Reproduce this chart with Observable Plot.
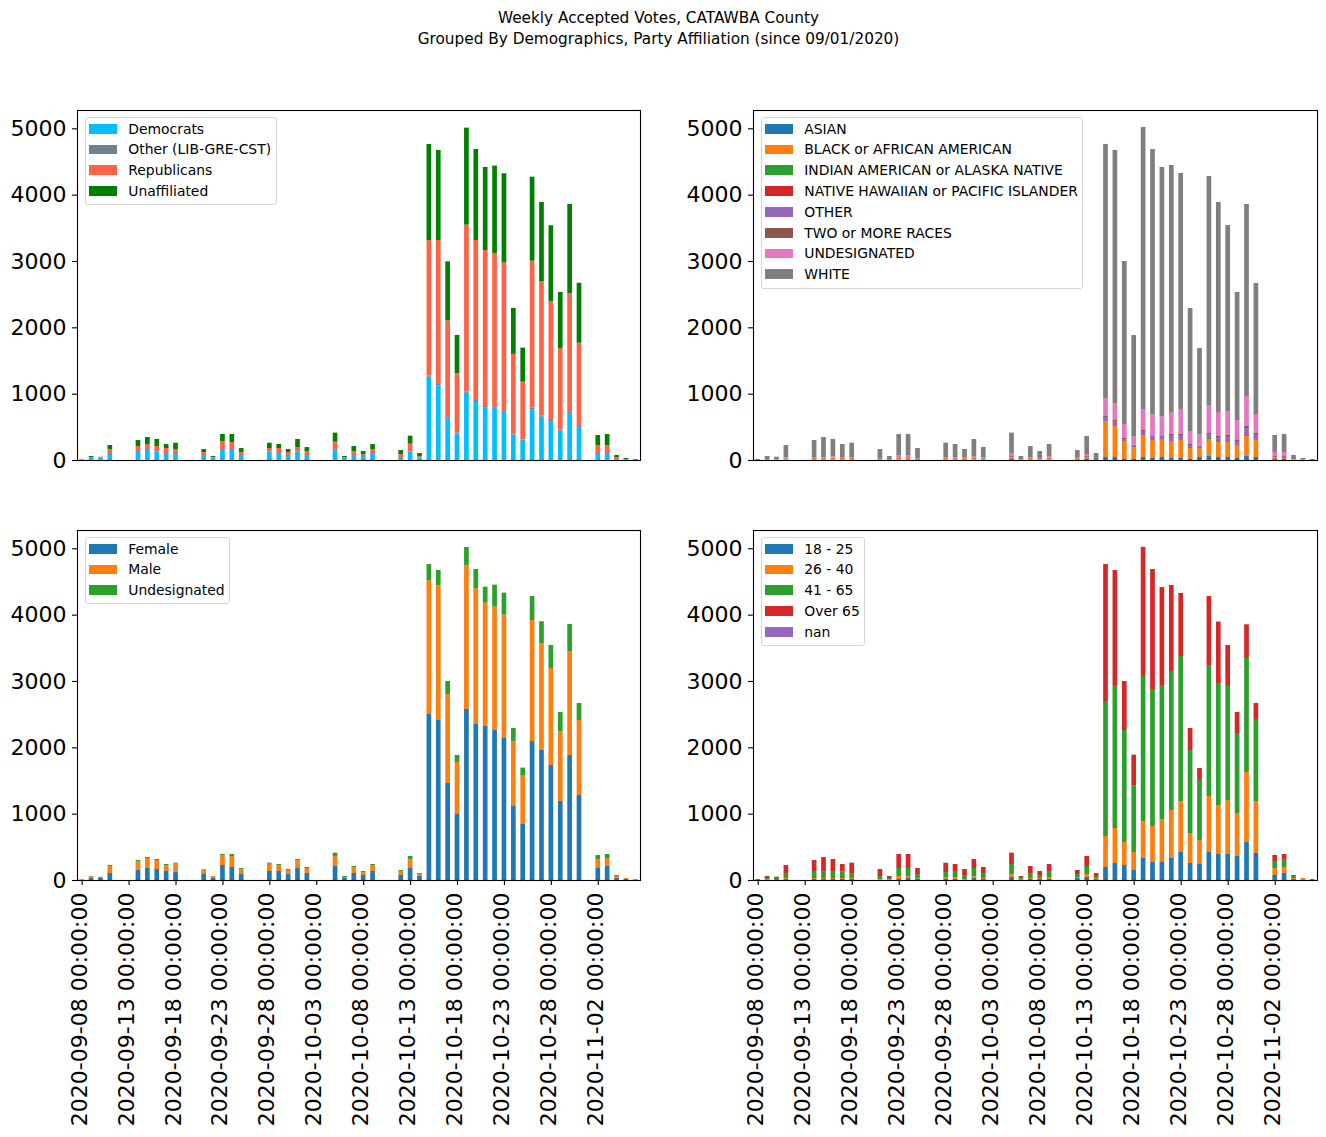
<!DOCTYPE html>
<html><head><meta charset="utf-8">
<script src="https://cdn.jsdelivr.net/npm/d3@7"></script>
<script src="https://cdn.jsdelivr.net/npm/@observablehq/plot@0.6"></script>
<style>
body{margin:0;background:#fff;font-family:"DejaVu Sans",sans-serif;}
#root{position:relative;width:1326px;height:1137px;overflow:hidden;background:#fff;}
.title{position:absolute;left:0;width:1317px;text-align:center;font-size:15.3px;color:#000;line-height:21px;top:7.5px;}
.panel{position:absolute;}
.legend{position:absolute;border:1px solid #d6d6d6;border-radius:3px;background:rgba(255,255,255,0.8);box-sizing:border-box;padding:0 4px 0 3.3px;font-size:13.9px;color:#000;}
.row{height:20.8px;display:flex;align-items:center;white-space:nowrap;}
.sw{width:27.7px;height:9.7px;margin-right:11.6px;flex:none;}
</style></head><body><div id="root"></div>
<script>
// ---- categories (daily) ----
const DATES = [
"2020-09-08","2020-09-09","2020-09-10","2020-09-11","2020-09-12","2020-09-13","2020-09-14","2020-09-15","2020-09-16","2020-09-17",
"2020-09-18","2020-09-19","2020-09-20","2020-09-21","2020-09-22","2020-09-23","2020-09-24","2020-09-25","2020-09-26","2020-09-27",
"2020-09-28","2020-09-29","2020-09-30","2020-10-01","2020-10-02","2020-10-03","2020-10-04","2020-10-05","2020-10-06","2020-10-07",
"2020-10-08","2020-10-09","2020-10-10","2020-10-11","2020-10-12","2020-10-13","2020-10-14","2020-10-15","2020-10-16","2020-10-17",
"2020-10-18","2020-10-19","2020-10-20","2020-10-21","2020-10-22","2020-10-23","2020-10-24","2020-10-25","2020-10-26","2020-10-27",
"2020-10-28","2020-10-29","2020-10-30","2020-10-31","2020-11-01","2020-11-02","2020-11-03","2020-11-04","2020-11-05","2020-11-06"];
const TICK_DATES = ["2020-09-08","2020-09-13","2020-09-18","2020-09-23","2020-09-28","2020-10-03","2020-10-08","2020-10-13","2020-10-18","2020-10-23","2020-10-28","2020-11-02"];
const Y_TICKS = [0,1000,2000,3000,4000,5000];
const Y_MAX = 5276;

// ---- party ----
const PARTY_NAMES = ["Democrats","Other (LIB-GRE-CST)","Republicans","Unaffiliated"];
const PARTY_COLORS = ["#00bfff","#708090","#ff6347","#008000"];
const DEM = [
10,35,35,106,0,0,136,151,126,90,
90,0,0,60,35,166,151,60,0,0,
126,106,75,126,75,0,0,156,35,75,
60,90,0,0,45,121,35,1256,1121,638,
402,1015,889,789,789,729,382,307,759,653,
578,442,698,487,0,90,90,15,5,0];
const OTH = [
0,0,0,0,0,0,0,0,0,0,
0,0,0,0,0,0,0,0,0,0,
0,0,0,0,0,0,0,0,0,0,
0,0,0,0,0,5,0,15,25,10,
10,15,15,25,10,10,15,5,30,15,
25,15,30,25,0,15,0,0,0,0];
const REP = [
5,5,15,60,0,0,75,90,85,90,
75,0,0,60,10,120,120,60,0,0,
55,75,45,70,60,0,0,121,5,60,
30,75,0,0,45,120,25,2045,2171,1457,
900,2518,2412,2352,2322,2241,1203,869,2216,2030,
1790,1232,1789,1256,0,120,135,30,10,5];
const UNA = [
0,20,0,60,0,0,90,106,106,60,
95,0,0,45,15,106,120,60,0,0,
80,60,45,121,60,0,0,136,20,75,
45,75,0,0,60,121,45,1447,1357,889,
573,1462,1372,1251,1317,1342,693,513,1266,1191,
1146,844,1342,904,0,151,166,30,15,10];

// ---- race ----
const RACE_NAMES = ["ASIAN","BLACK or AFRICAN AMERICAN","INDIAN AMERICAN or ALASKA NATIVE","NATIVE HAWAIIAN or PACIFIC ISLANDER","OTHER","TWO or MORE RACES","UNDESIGNATED","WHITE"];
const RACE_COLORS = ["#1f77b4","#ff7f0e","#2ca02c","#d62728","#9467bd","#8c564b","#e377c2","#7f7f7f"];
const ASIAN = [
0,0,0,0,0,0,0,0,0,0,
0,0,0,0,0,0,0,0,0,0,
0,0,10,10,0,0,0,15,0,0,
0,0,0,0,0,15,0,45,45,15,
15,45,30,45,30,30,15,45,60,45,
45,30,60,45,0,15,15,0,0,0];
const BLACK = [
0,5,5,15,0,0,30,30,30,30,
30,0,0,15,15,45,45,15,0,0,
30,15,20,20,15,0,0,30,10,30,
15,30,0,0,30,30,0,543,468,271,
181,332,272,257,256,272,166,136,257,226,
226,181,302,257,0,30,15,5,0,0];
const INDIAN = [
0,0,0,0,0,0,0,0,0,0,
0,0,0,0,0,0,0,0,0,0,
0,0,0,0,0,0,0,0,0,0,
0,0,0,0,0,0,15,0,0,0,
0,0,0,5,0,0,0,0,15,0,
0,0,15,0,0,0,0,0,0,0];
const HAWAII = [
0,0,0,0,0,0,0,0,0,0,
0,0,0,0,0,0,0,0,0,0,
0,0,0,0,0,0,0,0,0,0,
0,0,0,0,0,0,0,0,0,0,
0,0,0,0,0,0,0,0,0,0,
0,5,0,0,0,0,0,0,0,0];
const OTHER_R = [
0,0,0,5,0,0,0,5,5,0,
0,0,0,0,0,0,0,0,0,0,
0,0,0,0,10,0,0,15,0,0,
0,0,0,0,0,15,0,50,65,30,
30,60,60,55,91,75,45,30,60,76,
91,70,105,90,0,15,30,0,0,0];
const TWO = [
0,0,0,0,0,0,0,0,0,0,
0,0,0,0,0,0,0,0,0,0,
0,0,0,0,0,0,0,0,0,0,
0,0,0,0,0,0,0,25,25,15,
5,15,10,10,15,15,15,5,15,15,
15,15,31,15,0,0,0,0,0,0];
const UNDES_R = [
0,0,5,15,0,0,15,10,25,15,
15,0,0,15,0,30,30,15,0,0,
15,30,15,30,20,0,0,45,0,15,
15,30,0,0,15,30,0,272,256,211,
121,317,316,286,332,377,196,166,422,362,
362,301,452,286,0,61,61,5,5,0];
const WHITE = [
15,55,40,191,0,0,256,302,257,196,
216,0,0,136,45,317,317,151,0,0,
216,196,121,257,151,0,0,307,50,166,
106,181,0,0,106,272,91,3829,3814,2458,
1532,4251,4000,3759,3723,3558,1854,1306,3452,3165,
2804,1931,2894,1975,0,256,271,65,25,15];

// ---- gender ----
const GENDER_NAMES = ["Female","Male","Undesignated"];
const GENDER_COLORS = ["#1f77b4","#ff7f0e","#2ca02c"];
const FEMALE = [
5,30,30,106,0,0,151,181,166,136,
121,0,0,90,30,226,196,90,0,0,
136,136,90,181,106,0,0,211,30,106,
75,136,0,0,75,181,60,2502,2412,1462,
995,2578,2352,2322,2261,2141,1116,844,2095,1960,
1734,1191,1884,1281,0,181,211,30,15,0];
const MALE = [
10,30,20,106,0,0,136,151,136,90,
126,0,0,73,30,151,166,75,0,0,
110,90,60,121,75,0,0,151,15,90,
45,90,0,0,60,136,30,2020,2035,1342,
784,2171,2050,1859,1859,1859,980,729,1824,1608,
1462,1055,1568,1131,0,136,121,30,15,15];
const UNDES_G = [
0,0,0,15,0,0,15,15,15,15,
15,0,0,3,0,15,30,15,0,0,
15,15,15,15,15,0,0,50,15,15,
15,15,0,0,15,45,15,241,226,196,
106,271,286,241,332,332,196,121,362,332,
347,286,407,256,0,60,60,15,0,0];

// ---- age ----
const AGE_NAMES = ["18 - 25","26 - 40","41 - 65","Over 65","nan"];
const AGE_COLORS = ["#1f77b4","#ff7f0e","#2ca02c","#d62728","#9467bd"];
const A18 = [
0,0,0,15,0,0,15,15,15,15,
15,0,0,5,5,15,30,15,0,0,
15,15,10,30,15,0,0,45,10,15,
15,15,0,0,30,45,15,196,256,226,
151,332,271,271,332,422,256,241,422,392,
392,362,573,407,0,75,106,15,10,0];
const A26 = [
0,5,0,15,0,0,15,15,15,15,
15,0,0,10,5,45,30,5,0,0,
30,30,5,30,15,0,0,45,5,15,
15,30,0,0,15,45,15,467,528,347,
271,558,543,648,724,769,452,362,844,739,
814,648,1055,784,0,106,90,15,20,0];
const A41 = [
15,25,30,75,0,0,106,95,106,95,
75,0,0,45,20,121,121,70,0,0,
75,90,60,121,75,0,0,151,30,75,
45,90,0,0,45,121,30,2035,2155,1688,
1000,2186,2065,2020,2095,2186,1251,905,1975,1839,
1719,1206,1719,1236,0,106,121,30,0,15];
const A65 = [
0,30,20,121,0,0,166,221,181,116,
156,0,0,106,30,211,211,91,0,0,
141,106,91,136,91,0,0,171,15,106,
61,106,0,0,61,151,45,2065,1734,739,
467,1945,1809,1477,1296,950,332,181,1040,925,
618,317,507,241,0,90,75,15,0,0];
const ANAN = [
0,0,0,0,0,0,0,0,0,0,
0,0,0,0,0,0,0,0,0,0,
0,0,0,0,0,0,0,0,0,0,
0,0,0,0,0,0,0,0,0,0,
0,0,0,0,0,0,0,0,0,0,
0,0,0,0,0,0,0,0,0,0];

const root = document.getElementById("root");
const t = document.createElement("div");
t.className = "title";
t.innerHTML = "Weekly Accepted Votes, CATAWBA County<br>Grouped By Demographics, Party Affiliation (since 09/01/2020)";
root.appendChild(t);

function panel(cfg) {
  const {names, colors, values, left, top, width, height, mL, mR, mT, mB, showX, legend} = cfg;
  const data = [];
  names.forEach((s, k) => values[k].forEach((v, i) => { if (v > 0) data.push({date: DATES[i], series: s, value: v}); }));
  const marks = [
    Plot.barY(data, {x: "date", y: "value", fill: "series", z: "series", order: names}),
    Plot.frame({stroke: "black", strokeWidth: 1.1}),
    Plot.axisY({ticks: Y_TICKS, tickSize: 5, tickPadding: 6, fontSize: 22, label: null, tickFormat: d => String(d), stroke: "black", strokeWidth: 1.1})
  ];
  if (showX) {
    marks.push(Plot.axisX({ticks: TICK_DATES, tickSize: 5, tickFormat: () => "", label: null, strokeWidth: 1.1}));
    marks.push(Plot.text(TICK_DATES, {x: d => d, frameAnchor: "bottom", text: d => d + " 00:00:00",
      rotate: -90, textAnchor: "end", lineAnchor: "middle", dx: -2.5, dy: 12, fontSize: 22, fill: "black"}));
  }
  const svg = Plot.plot({
    width, height, marginLeft: mL, marginRight: mR, marginTop: mT, marginBottom: mB,
    style: {fontFamily: "DejaVu Sans", background: "transparent", overflow: "visible", color: "black"},
    x: {type: "band", domain: DATES, paddingInner: 0.5, paddingOuter: 0.25, round: false, axis: null},
    y: {domain: [0, Y_MAX], axis: null},
    color: {domain: names, range: colors},
    marks
  });
  const wrap = document.createElement("div");
  wrap.className = "panel";
  wrap.style.left = left + "px";
  wrap.style.top = top + "px";
  wrap.appendChild(svg);
  root.appendChild(wrap);

  const lg = document.createElement("div");
  lg.className = "legend";
  lg.style.left = legend.x + "px";
  lg.style.top = legend.y + "px";
  lg.style.width = legend.w + "px";
  lg.style.height = legend.h + "px";
  names.forEach((n, k) => {
    const r = document.createElement("div");
    r.className = "row";
    const sw = document.createElement("div");
    sw.className = "sw";
    sw.style.background = colors[k];
    const tx = document.createElement("span");
    tx.textContent = n;
    r.appendChild(sw); r.appendChild(tx);
    lg.appendChild(r);
  });
  root.appendChild(lg);
}

panel({names: PARTY_NAMES, colors: PARTY_COLORS, values: [DEM, OTH, REP, UNA],
  left: 0, top: 60, width: 663, height: 410, mL: 77, mR: 23, mT: 50, mB: 10, showX: false,
  legend: {x: 84.7, y: 117.3, w: 192, h: 88}});
panel({names: RACE_NAMES, colors: RACE_COLORS, values: [ASIAN, BLACK, INDIAN, HAWAII, OTHER_R, TWO, UNDES_R, WHITE],
  left: 663, top: 60, width: 663, height: 410, mL: 90, mR: 9, mT: 50, mB: 10, showX: false,
  legend: {x: 760.7, y: 117.3, w: 322.6, h: 172}});
panel({names: GENDER_NAMES, colors: GENDER_COLORS, values: [FEMALE, MALE, UNDES_G],
  left: 0, top: 480, width: 663, height: 657, mL: 77, mR: 23, mT: 50, mB: 257, showX: true,
  legend: {x: 84.7, y: 537.3, w: 145.6, h: 67}});
panel({names: AGE_NAMES, colors: AGE_COLORS, values: [A18, A26, A41, A65, ANAN],
  left: 663, top: 480, width: 663, height: 657, mL: 90, mR: 9, mT: 50, mB: 257, showX: true,
  legend: {x: 760.7, y: 537.3, w: 104.3, h: 108.7}});
</script></body></html>
